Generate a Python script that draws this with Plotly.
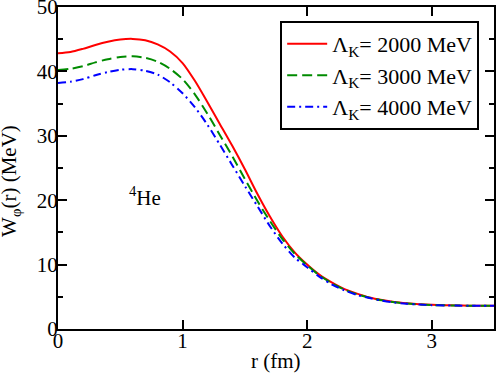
import plotly.graph_objects as go

# r grid (fm) and W_phi(r) (MeV)
r = [0.0, 0.1, 0.2, 0.3, 0.4, 0.5, 0.6, 0.7, 0.8, 0.9, 1.0, 1.1, 1.2, 1.3, 1.4, 1.5, 1.6, 1.7,
     1.8, 1.9, 2.0, 2.1, 2.2, 2.3, 2.4, 2.5, 2.6, 2.7, 2.8, 2.9, 3.0, 3.1, 3.2, 3.3, 3.4, 3.5]

w_2000 = [42.8, 43.0, 43.5, 44.1, 44.6, 44.95, 45.05, 44.85, 44.2, 43.1, 41.3, 38.5, 35.2, 31.8,
          28.4, 24.8, 21.0, 17.5, 14.4, 11.9, 10.0, 8.4, 7.2, 6.2, 5.5, 4.9, 4.5, 4.2, 4.0, 3.85,
          3.75, 3.7, 3.65, 3.62, 3.6, 3.6]
w_3000 = [40.2, 40.4, 40.8, 41.4, 41.9, 42.25, 42.35, 42.1, 41.5, 40.4, 38.8, 36.4, 33.4, 30.1,
          26.8, 23.3, 19.9, 16.8, 14.0, 11.7, 9.9, 8.3, 7.1, 6.1, 5.4, 4.85, 4.45, 4.15, 3.95, 3.82,
          3.72, 3.68, 3.64, 3.61, 3.6, 3.6]
w_4000 = [38.2, 38.4, 38.8, 39.4, 39.9, 40.25, 40.35, 40.1, 39.5, 38.3, 36.6, 34.4, 31.7, 28.6,
          25.4, 22.2, 19.1, 16.0, 13.3, 11.1, 9.6, 8.1, 6.9, 6.0, 5.3, 4.8, 4.4, 4.1, 3.92, 3.8,
          3.7, 3.66, 3.63, 3.6, 3.6, 3.6]

names = ["Λ<sub>K</sub>= 2000 MeV", "Λ<sub>K</sub>= 3000 MeV", "Λ<sub>K</sub>= 4000 MeV"]
series = [w_2000, w_3000, w_4000]
colors = ["#ff0000", "#008b00", "#0000ff"]
dashes = ["solid", "10px,5px", "8px,4px,2px,4px"]

fig = go.Figure()
for name, w, c, d in zip(names, series, colors, dashes):
    fig.add_trace(go.Scatter(x=r, y=w, mode="lines", name=name, line_shape="spline",
                             line=dict(color=c, width=2, dash=d, smoothing=0.8)))

font = dict(family="Liberation Serif, Times New Roman, serif", size=21, color="black")
axis = dict(showline=True, linecolor="black", linewidth=2, mirror="allticks", ticks="inside",
            ticklen=9, tickwidth=2, tickcolor="black", showgrid=False, zeroline=False,
            tickfont=font, automargin=False, ticklabeloverflow="allow")

fig.update_layout(
    width=496, height=374,
    margin=dict(l=58, r=2, t=7, b=45),
    plot_bgcolor="white", paper_bgcolor="white",
    font=font,
    xaxis=dict(axis, range=[0, 3.5], dtick=1, ticklabelstandoff=-8),
    yaxis=dict(axis, range=[0, 50], dtick=10, ticklabelstandoff=-6,
               minor=dict(ticks="inside", ticklen=5, tickwidth=2, tickcolor="black", dtick=5)),
    legend=dict(x=0.966, y=0.957, xanchor="right", yanchor="top", bordercolor="black",
                borderwidth=2, bgcolor="white", font=dict(font, size=22), tracegroupgap=0,
                itemwidth=40),
    showlegend=True,
)

# axis titles
fig.add_annotation(x=0.5, y=0, xref="paper", yref="paper", yshift=-32, text="r (fm)",
                   showarrow=False, font=font, yanchor="middle")
fig.add_annotation(x=0, y=0.46, xref="paper", yref="paper", xshift=-48, text="W<sub>φ</sub>(r) (MeV)",
                   showarrow=False, font=font, textangle=-90, xanchor="center")

fig.add_annotation(x=0.7, y=20.5, text="<sup>4</sup>He", showarrow=False, font=font,
                   xref="x", yref="y")

# page body has a default margin; drop it so the figure sits at the window corner
fig.write_html("out.html", config={"displayModeBar": False},
               post_script="document.body.style.margin='0';")
